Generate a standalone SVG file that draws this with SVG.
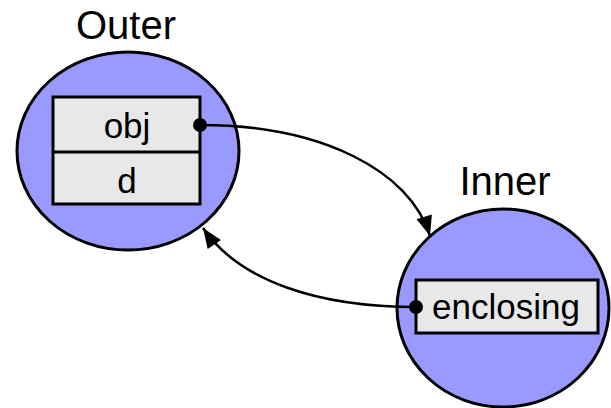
<svg xmlns="http://www.w3.org/2000/svg" width="611" height="408" viewBox="0 0 611 408">
<style>
.ell{fill:#9999ff;stroke:#000;stroke-width:3}
.box{fill:#e8e8e8;stroke:#000;stroke-width:3}
.t{font-family:"Liberation Sans",Arial,sans-serif;fill:#000;text-anchor:middle}
.lbl{font-size:40px}
.fld{font-size:35px}
.con{fill:none;stroke:#000;stroke-width:2.5}
</style>
<defs>
<marker id="arr" markerUnits="userSpaceOnUse" markerWidth="24" markerHeight="24" viewBox="0 0 24 24" refX="22" refY="12" orient="auto">
<path d="M2,4 L22,12 L2,20 Z" fill="#000"/>
</marker>
</defs>
<g id="outer">
<text class="t lbl" x="126" y="39">Outer</text>
<ellipse class="ell" cx="128" cy="151" rx="111" ry="99"/>
<rect class="box" x="53" y="97" width="147" height="107"/>
<line x1="53" y1="152" x2="200" y2="152" stroke="#000" stroke-width="3"/>
<text class="t fld" x="127" y="138">obj</text>
<text class="t fld" x="127" y="193">d</text>
</g>
<g id="inner">
<text class="t lbl" x="505" y="195">Inner</text>
<ellipse class="ell" cx="503" cy="308" rx="106" ry="99"/>
<rect class="box" x="416" y="280" width="182" height="53"/>
<text class="t fld" x="506" y="319">enclosing</text>
</g>
<g id="connectors">
<path class="con" d="M200,125 C320,125 410,170 430,236" marker-end="url(#arr)"/>
<path class="con" d="M416,307 C320,307 240,282 203,228" marker-end="url(#arr)"/>
<circle cx="200" cy="125" r="7"/>
<circle cx="416" cy="307" r="7"/>
</g>
</svg>
